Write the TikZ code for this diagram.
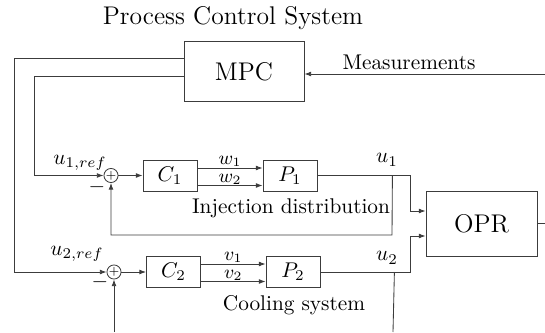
\documentclass[tikz,border=0pt]{standalone}
\usepackage{amsmath}
\usetikzlibrary{arrows.meta,positioning,calc}
\definecolor{lineGray}{RGB}{60,60,60}
\tikzset{
  block/.style={draw=lineGray, thin, minimum width=0.89cm, minimum height=0.51cm, inner sep=2pt},
  bigblock/.style={block, font=\large},
  sumnode/.style={circle, draw=lineGray, thin, minimum size=0.19cm, inner sep=0pt,
                  font=\fontsize{4}{4}\selectfont},
  sig/.style={-{Latex[length=1.1mm,width=0.8mm]}, thin, draw=lineGray},
  wire/.style={thin, draw=lineGray},
  lbl/.style={inner sep=0.4pt, font=\small}
}
\begin{document}
\begin{tikzpicture}[x=0.0165cm, y=-0.0165cm]
\useasboundingbox (0,0) rectangle (545,332);
\node[font=\large] (title) at (233,18) {Process Control System};
\node[bigblock, minimum width=1.98cm, minimum height=1.0cm] (mpc) at (244,71.5) {MPC};
\node[bigblock, minimum width=1.83cm, minimum height=1.07cm] (opr) at (481.5,223.5) {OPR};
\node[sumnode] (sum1) at (111,175.5) {$+$};
\node[block] (c1) at (170,175.5) {$C_1$};
\node[block] (p1) at (290,175.5) {$P_1$};
\node[sumnode] (sum2) at (114,272) {$+$};
\node[block] (c2) at (173.5,272) {$C_2$};
\node[block] (p2) at (293,272) {$P_2$};

% texts
\node (meastext) at (409,62) {Measurements};
\node (inj) at (291,208) {Injection distribution};
\node (cool) at (294,305) {Cooling system};
\node (uref1) at (80,163) {$u_{1,ref}$};
\node (uref2) at (77,254) {$u_{2,ref}$};
\node (minus1) at (97,187) {$-$};
\node (minus2) at (100,282) {$-$};
\node (ulab1) at (387,160) {$u_1$};
\node (ulab2) at (387,258) {$u_2$};

% coordinates
\coordinate (meas) at (545,74);
\coordinate (mpc out1) at ($(mpc.west)+(0,-13.5)$);
\coordinate (mpc out2) at ($(mpc.west)+(0,4.5)$);
\coordinate (left1) at (14,0);
\coordinate (left2) at (34,0);
\coordinate (opr in1) at ($(opr.west)+(0,-12.5)$);
\coordinate (opr in2) at ($(opr.west)+(0,12.5)$);
\coordinate (fb1) at ($(p1.east)+(75,0)$);
\coordinate (fb1 low) at (392,235);
\coordinate (fb2) at ($(p2.east)+(74,0)$);
\coordinate (fb2 end) at (393,332);
\coordinate (fb2 start) at (114,332);
\coordinate (out) at (545,223.5);

% MPC loop
\draw[sig] (meas) -- (meas -| mpc.east);
\draw[sig] (mpc out1) -| (left1 |- sum2) -- (sum2.west);
\draw[sig] (mpc out2) -| (left2 |- sum1) -- (sum1.west);

% injection loop
\draw[sig] (sum1.east) -- (c1.west);
\draw[sig] ($(c1.east)+(0,-7.5)$) coordinate (w1) -- node[above, lbl]{$w_1$} (w1 -| p1.west);
\draw[sig] ($(c1.east)+(0,10)$) coordinate (w2) -- node[above, lbl]{$w_2$} (w2 -| p1.west);
\draw[sig] (p1.east) -| ($(opr in1)+(-15,0)$) -- (opr in1);
\draw[sig] (fb1) -- (fb1 low) -| (sum1.south);

% cooling loop
\draw[sig] (sum2.east) -- (c2.west);
\draw[sig] ($(c2.east)+(0,-8)$) coordinate (v1) -- node[above, lbl]{$v_1$} (v1 -| p2.west);
\draw[sig] ($(c2.east)+(0,9.5)$) coordinate (v2) -- node[above, lbl]{$v_2$} (v2 -| p2.west);
\draw[sig] (p2.east) -| ($(opr in2)+(-15,0)$) -- (opr in2);
\draw[wire] (fb2) -- (fb2 end);
\draw[sig] (fb2 start) -- (sum2.south);

\draw[wire] (opr.east) -- (out);
\end{tikzpicture}
\end{document}
